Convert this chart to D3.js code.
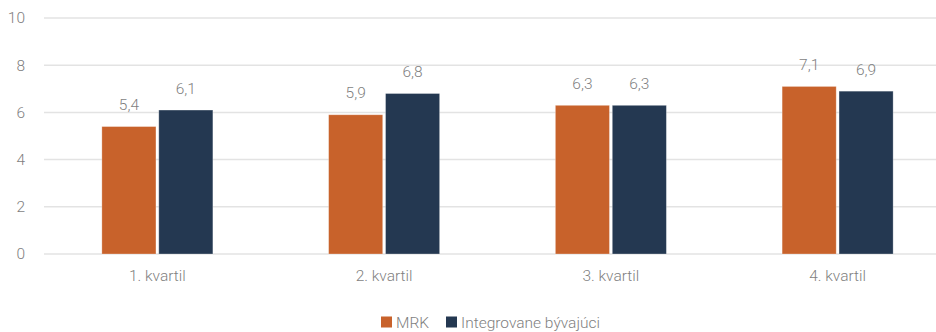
<!DOCTYPE html>
<html>
<head>
<meta charset="utf-8">
<script src="https://cdn.jsdelivr.net/npm/d3@7"></script>
<style>
  html, body { margin: 0; padding: 0; background: #fff; }
  svg { display: block; }
  text { font-family: Roboto, "Noto Sans", sans-serif; font-weight: 300; fill: #7f7f7f; }
</style>
</head>
<body>
<svg id="chart" width="936" height="332"></svg>
<script>
const categories = ["1. kvartil", "2. kvartil", "3. kvartil", "4. kvartil"];
const seriesNames = ["MRK", "Integrovane bývajúci"];
const mrkValues = [5.4, 5.9, 6.3, 7.1];
const integrovaneValues = [6.1, 6.8, 6.3, 6.9];
const yTicks = [0, 2, 4, 6, 8, 10];
const colors = ["#c8622b", "#243851"];

const svg = d3.select("#chart");
const W = 936;
const plotLeft = 44, plotRight = 951;
const y = d3.scaleLinear().domain([0, 10]).range([254, 18]);
const x0 = d3.scaleBand().domain(categories).range([plotLeft, plotRight]).paddingInner(0).paddingOuter(0);
const x1 = d3.scaleBand().domain(seriesNames).range([0, 111]).paddingInner(0.05);
const groupOffset = (x0.bandwidth() - 111) / 2;

// horizontal gridlines
svg.append("g").selectAll("line").data(yTicks).join("line")
  .attr("x1", plotLeft).attr("x2", W)
  .attr("y1", d => y(d)).attr("y2", d => y(d))
  .attr("stroke", "#e3e3e3").attr("stroke-width", 1.5);

// y axis tick labels
const yAxis = d3.axisLeft(y).tickValues(yTicks).tickSize(0).tickPadding(0);
const gy = svg.append("g").attr("transform", "translate(25,0)").call(yAxis);
gy.select(".domain").remove();
gy.selectAll("text").attr("font-size", 15.5).attr("fill", "#7f7f7f")
  .style("font-family", "Roboto, sans-serif").style("font-weight", 300);

// x axis category labels
const xAxis = d3.axisBottom(x0).tickSize(0).tickPadding(0);
const gx = svg.append("g").attr("transform", "translate(0,270)").call(xAxis);
gx.select(".domain").remove();
gx.selectAll("text").attr("font-size", 15.5).attr("fill", "#7f7f7f")
  .style("font-family", "Roboto, sans-serif").style("font-weight", 300);

const rows = categories.map((c, i) => ({ cat: c, vals: [
  { name: seriesNames[0], v: mrkValues[i], color: colors[0] },
  { name: seriesNames[1], v: integrovaneValues[i], color: colors[1] }
]}));

const groups = svg.append("g").selectAll("g").data(rows).join("g")
  .attr("transform", d => `translate(${x0(d.cat) + groupOffset},0)`);

groups.selectAll("rect").data(d => d.vals).join("rect")
  .attr("x", d => x1(d.name))
  .attr("y", d => y(d.v))
  .attr("width", x1.bandwidth())
  .attr("height", d => y(0) - y(d.v))
  .attr("fill", d => d.color)
  .attr("stroke", "#ffffff").attr("stroke-opacity", 0.35).attr("stroke-width", 0.8);

const fmt = v => d3.format(".1f")(v).replace(".", ",");
groups.selectAll("text.val").data(d => d.vals).join("text")
  .attr("class", "val")
  .attr("x", d => x1(d.name) + x1.bandwidth() / 2)
  .attr("y", d => y(d.v) - 16.5)
  .attr("text-anchor", "middle")
  .attr("font-size", 15.5)
  .text(d => fmt(d.v));

// legend
const legend = svg.append("g");
const legendItems = [
  { name: seriesNames[0], color: colors[0], x: 381 },
  { name: seriesNames[1], color: colors[1], x: 446 }
];
legendItems.forEach(it => {
  legend.append("rect").attr("x", it.x).attr("y", 316.5).attr("width", 11).attr("height", 11).attr("fill", it.color);
  legend.append("text").attr("x", it.x + 15).attr("y", 327.5).attr("font-size", 15.5).text(it.name);
});
</script>
</body>
</html>
